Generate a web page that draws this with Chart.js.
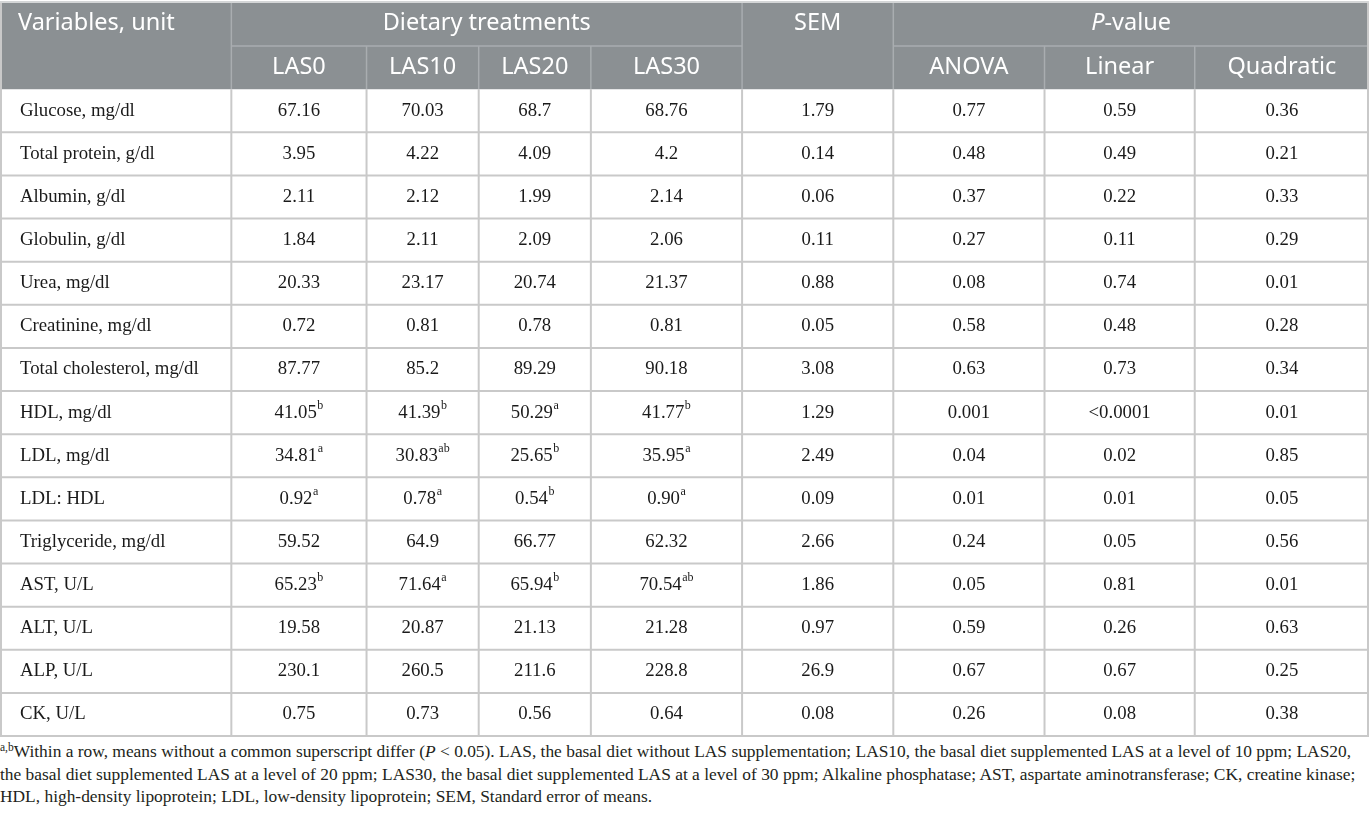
<!DOCTYPE html>
<html>
<head>
<meta charset="utf-8">
<script src="https://cdn.jsdelivr.net/npm/chart.js@4"></script>
<style>
  html, body { margin: 0; padding: 0; background: #fff; }
  #wrap { position: relative; width: 1369px; height: 818px; overflow: hidden; }
  #table { display: block; }
  #note {
    position: absolute; left: 0; top: 740px;
    font-family: "Liberation Serif", serif; font-size: 17.4px; line-height: 22.6px;
    color: #231f20; white-space: nowrap;
  }
  #note sup { font-size: 11.5px; vertical-align: 6px; line-height: 0; }
</style>
</head>
<body>
<div id="wrap">
  <canvas id="table" width="1369" height="738"></canvas>
  <div id="note"><sup>a,b</sup>Within a row, means without a common superscript differ (<i>P</i> &lt; 0.05). LAS, the basal diet without LAS supplementation; LAS10, the basal diet supplemented LAS at a level of 10 ppm; LAS20,<br>the basal diet supplemented LAS at a level of 20 ppm; LAS30, the basal diet supplemented LAS at a level of 30 ppm; Alkaline phosphatase; AST, aspartate aminotransferase; CK, creatine kinase;<br>HDL, high-density lipoprotein; LDL, low-density lipoprotein; SEM, Standard error of means.</div>
</div>
<script>
"use strict";

// Rader (variabler)
const variables = ['Glucose, mg/dl', 'Total protein, g/dl', 'Albumin, g/dl', 'Globulin, g/dl', 'Urea, mg/dl',
    'Creatinine, mg/dl', 'Total cholesterol, mg/dl', 'HDL, mg/dl', 'LDL, mg/dl', 'LDL: HDL',
    'Triglyceride, mg/dl', 'AST, U/L', 'ALT, U/L', 'ALP, U/L', 'CK, U/L'];

// Kolumnrubriker
const groupHeaders = ['Variables, unit', 'Dietary treatments', 'SEM', 'P-value'];
const subHeaders = ['LAS0', 'LAS10', 'LAS20', 'LAS30', 'ANOVA', 'Linear', 'Quadratic'];

// Värden per kolumn
const las0 = ['67.16', '3.95', '2.11', '1.84', '20.33', '0.72', '87.77', '41.05', '34.81', '0.92', '59.52', '65.23', '19.58', '230.1', '0.75'];
const las10 = ['70.03', '4.22', '2.12', '2.11', '23.17', '0.81', '85.2', '41.39', '30.83', '0.78', '64.9', '71.64', '20.87', '260.5', '0.73'];
const las20 = ['68.7', '4.09', '1.99', '2.09', '20.74', '0.78', '89.29', '50.29', '25.65', '0.54', '66.77', '65.94', '21.13', '211.6', '0.56'];
const las30 = ['68.76', '4.2', '2.14', '2.06', '21.37', '0.81', '90.18', '41.77', '35.95', '0.90', '62.32', '70.54', '21.28', '228.8', '0.64'];
const sem = ['1.79', '0.14', '0.06', '0.11', '0.88', '0.05', '3.08', '1.29', '2.49', '0.09', '2.66', '1.86', '0.97', '26.9', '0.08'];
const anova = ['0.77', '0.48', '0.37', '0.27', '0.08', '0.58', '0.63', '0.001', '0.04', '0.01', '0.24', '0.05', '0.59', '0.67', '0.26'];
const linear = ['0.59', '0.49', '0.22', '0.11', '0.74', '0.48', '0.73', '<0.0001', '0.02', '0.01', '0.05', '0.81', '0.26', '0.67', '0.08'];
const quadratic = ['0.36', '0.21', '0.33', '0.29', '0.01', '0.28', '0.34', '0.01', '0.85', '0.05', '0.56', '0.01', '0.63', '0.25', '0.38'];

// Superscript-bokstäver (a, b, ab)
const las0Sup = ['', '', '', '', '', '', '', 'b', 'a', 'a', '', 'b', '', '', ''];
const las10Sup = ['', '', '', '', '', '', '', 'b', 'ab', 'a', '', 'a', '', '', ''];
const las20Sup = ['', '', '', '', '', '', '', 'a', 'b', 'b', '', 'b', '', '', ''];
const las30Sup = ['', '', '', '', '', '', '', 'b', 'a', 'a', '', 'ab', '', '', ''];

// Layout: kolumnbredder (enheter på x-skalan) och stil
const colWidths = [231, 135, 112, 112, 151, 151, 151, 150, 174];
const headerRows = 2;
const headerBg = '#8b9093';
const headerLine = '#a9adb0';
const gridLine = '#c9c9c9';
const headFont = '23.5px "Noto Sans", "Open Sans", sans-serif';
const bodyFont = '18.8px "Liberation Serif", serif';
const supFont = '12px "Liberation Serif", serif';

const columns = [las0, las10, las20, las30, sem, anova, linear, quadratic];
const supCols = [las0Sup, las10Sup, las20Sup, las30Sup];

// Kolumnkanter kumulativt
let colEdges = [0];
colWidths.forEach((w, i) => colEdges.push(colEdges[i] + w));
const totalRows = headerRows + variables.length;

// Rita tabellen med hjälp av diagrammets skalor
const tablePlugin = {
    id: 'tablePlugin',
    afterDraw(chart) {
        const ctx = chart.ctx;
        const xs = chart.scales.x;
        const ys = chart.scales.y;
        const px = (c) => xs.getPixelForValue(colEdges[c]);
        const py = (r) => ys.getPixelForValue(r);
        const cx = (c0, c1) => (px(c0) + px(c1)) / 2;
        const cy = (r) => (py(r) + py(r + 1)) / 2;

        ctx.save();

        // Rubrikbakgrund
        ctx.fillStyle = headerBg;
        ctx.fillRect(px(0), py(0), px(9) - px(0), py(2) - py(0));

        function line(x1, y1, x2, y2, color, w) {
            ctx.strokeStyle = color;
            ctx.lineWidth = w;
            ctx.beginPath();
            ctx.moveTo(x1, y1);
            ctx.lineTo(x2, y2);
            ctx.stroke();
        }

        // Linjer i rubriken
        line(px(1), py(1), px(5), py(1), headerLine, 1.5);
        line(px(6), py(1), px(9), py(1), headerLine, 1.5);
        [2, 3, 4, 7, 8].forEach(c => line(px(c), py(1), px(c), py(2), headerLine, 1.5));
        [1, 5, 6].forEach(c => line(px(c), py(0), px(c), py(2), headerLine, 1.5));

        // Rutnät i tabellkroppen
        for (let r = headerRows + 1; r <= totalRows; r++) {
            line(px(0), py(r), px(9), py(r), gridLine, 2);
        }
        for (let c = 1; c < 9; c++) {
            line(px(c), py(headerRows), px(c), py(totalRows), gridLine, 2);
        }
        line(px(0) + 1, py(0) - 1, px(0) + 1, py(totalRows), gridLine, 2);
        line(px(9) - 1, py(0) - 1, px(9) - 1, py(totalRows), gridLine, 2);
        line(px(0), py(0) - 1, px(9), py(0) - 1, '#d4d6d7', 2);

        // Rubriktext
        ctx.fillStyle = '#ffffff';
        ctx.font = headFont;
        ctx.textBaseline = 'middle';
        ctx.textAlign = 'left';
        ctx.fillText(groupHeaders[0], px(0) + 18, cy(0) - 1);
        ctx.textAlign = 'center';
        ctx.fillText(groupHeaders[1], cx(1, 5), cy(0) - 1);
        ctx.fillText(groupHeaders[2], cx(5, 6), cy(0) - 1);

        // P-value med kursivt P
        const pText = groupHeaders[3];
        ctx.font = 'italic ' + headFont;
        const pW = ctx.measureText(pText[0]).width;
        ctx.font = headFont;
        const restW = ctx.measureText(pText.slice(1)).width;
        const pStart = cx(6, 9) - (pW + restW) / 2;
        ctx.textAlign = 'left';
        ctx.font = 'italic ' + headFont;
        ctx.fillText(pText[0], pStart, cy(0) - 1);
        ctx.font = headFont;
        ctx.fillText(pText.slice(1), pStart + pW, cy(0) - 1);

        ctx.textAlign = 'center';
        const subCols = [1, 2, 3, 4, 6, 7, 8];
        subHeaders.forEach((h, i) => {
            const c = subCols[i];
            ctx.fillText(h, cx(c, c + 1), cy(1));
        });

        // Tabellkropp
        ctx.fillStyle = '#1a1a1a';
        variables.forEach((v, i) => {
            const r = headerRows + i;
            ctx.font = bodyFont;
            ctx.textAlign = 'left';
            ctx.fillText(v, px(0) + 20, cy(r));

            columns.forEach((col, j) => {
                const c = j + 1;
                const sup = supCols[j] ? supCols[j][i] : '';
                ctx.font = bodyFont;
                const w = ctx.measureText(col[i]).width;
                ctx.font = supFont;
                const sw = sup ? ctx.measureText(sup).width + 0.5 : 0;
                const start = cx(c, c + 1) - (w + sw) / 2;
                ctx.textAlign = 'left';
                ctx.font = bodyFont;
                ctx.fillText(col[i], start, cy(r));
                if (sup) {
                    ctx.font = supFont;
                    ctx.fillText(sup, start + w + 0.5, cy(r) - 7);
                }
            });
        });

        ctx.restore();
    }
};

const tableEl = document.getElementById('table');
new Chart(tableEl, {
    type: 'scatter',
    data: {
        datasets: [{ data: [], pointRadius: 0 }]
    },
    options: {
        responsive: false,
        animation: false,
        devicePixelRatio: 1,
        layout: { padding: { top: 3, bottom: 2, left: 0, right: 0 } },
        plugins: { legend: { display: false }, tooltip: { enabled: false } },
        scales: {
            x: { type: 'linear', min: 0, max: colEdges[colEdges.length - 1], display: false },
            y: { type: 'linear', min: 0, max: totalRows, reverse: true, display: false }
        }
    },
    plugins: [tablePlugin]
});
</script>
</body>
</html>
